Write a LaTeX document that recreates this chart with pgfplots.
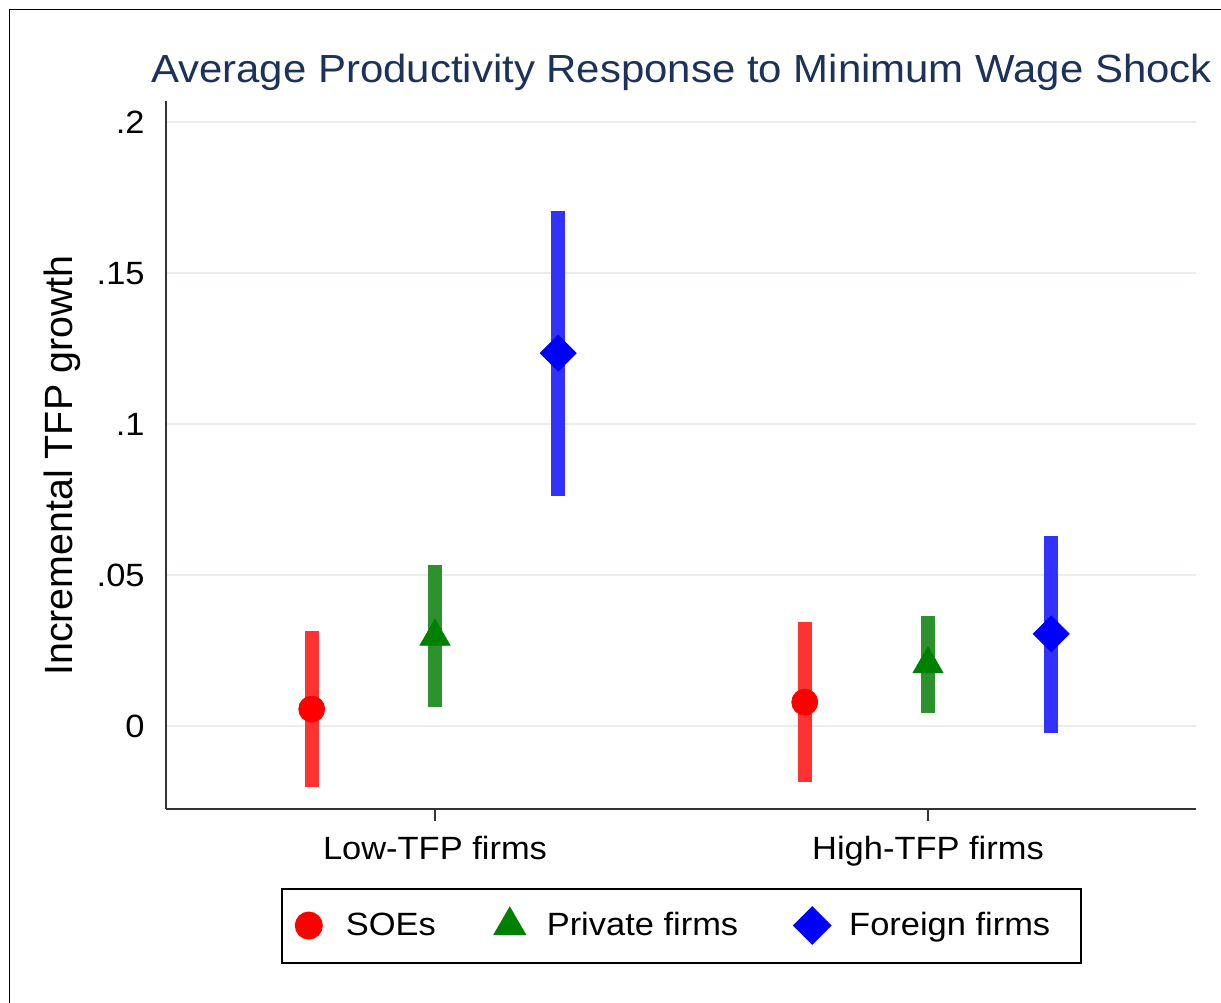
\documentclass[border=0pt]{standalone}
\usepackage{fontspec}
\setmainfont[FakeStretch=1.07]{Liberation Sans}
\newfontfamily\ylfont{Liberation Sans}
\usepackage{pgfplots}
\pgfplotsset{compat=1.18}
\definecolor{titlenavy}{RGB}{28,50,90}
\definecolor{barred}{RGB}{255,50,50}
\definecolor{bargreen}{RGB}{45,145,45}
\definecolor{barblue}{RGB}{50,50,255}
\definecolor{mred}{RGB}{255,0,0}
\definecolor{mgreen}{RGB}{0,128,0}
\definecolor{mblue}{RGB}{0,0,255}
\definecolor{gridc}{RGB}{232,238,240}
\newcommand\fs{\fontsize{16.1}{19}\selectfont}
\pgfplotsset{mylegimg/.style={legend image code/.code={\path[draw=none,fill=none] (-9.5pt,-9pt) rectangle (9.5pt,9pt); \draw[##1] plot coordinates {(0pt,0pt)};}}}
\begin{document}
\begin{tikzpicture}
\useasboundingbox (0,0) rectangle (610.5pt,-501pt);
\draw[line width=0.6pt] (4.75pt,-520pt) -- (4.75pt,-4.75pt) -- (620pt,-4.75pt);
\begin{axis}[
 at={(83pt,-404.5pt)}, anchor=south west,
 scale only axis, width=515pt, height=354pt,
 xmin=0.4544, xmax=2.5436, ymin=-0.0275, ymax=0.207,
 axis x line*=bottom, axis y line*=left,
 axis line style={line width=1pt, color=black!80, -},
 xtick={1,2}, xticklabels={Low-TFP firms, High-TFP firms},
 ytick={0,0.05,0.1,0.15,0.2}, yticklabels={0,.05,.1,.15,.2},
 tick label style={font=\fs},
 xtick style={line width=1pt, color=black!80},
 ytick style={draw=none},
 tick align=outside, major tick length=6pt,
 xticklabel style={anchor=north, inner sep=0pt, yshift=-7.5pt},
 yticklabel style={anchor=east, inner sep=0pt, xshift=-4.5pt},
 ymajorgrids, grid style={line width=1pt, color=gridc},
 ylabel={Incremental TFP growth},
 ylabel style={at={(axis description cs:-0.101,0.485)}, anchor=center, font=\ylfont\fontsize{19.7}{23}\selectfont},
 title={Average Productivity Response to Minimum Wage Shock},
 title style={at={(axis description cs:0.5005,1.0085)}, anchor=base, font=\fontsize{19.6}{23}\selectfont, color=titlenavy},
 legend columns=3,
 legend style={at={(axis description cs:0.5005,-0.1646)}, anchor=center, font=\fs, draw=black, line width=1pt, inner xsep=4pt, inner ysep=9.5pt, nodes={inner sep=0pt}, /tikz/every odd column/.append style={column sep=9pt}, /tikz/every even column/.append style={column sep=27.5pt}},
]
\addplot[forget plot, barred, line width=7pt] coordinates {(0.75,-0.0202) (0.75,0.0315)};
\addplot[forget plot, barred, line width=7pt] coordinates {(1.75,-0.0185) (1.75,0.0344)};
\addplot[forget plot, bargreen, line width=7pt] coordinates {(1,0.0063) (1,0.0533)};
\addplot[forget plot, bargreen, line width=7pt] coordinates {(2,0.0043) (2,0.0364)};
\addplot[forget plot, barblue, line width=7pt] coordinates {(1.25,0.0762) (1.25,0.1705)};
\addplot[forget plot, barblue, line width=7pt] coordinates {(2.25,-0.0023) (2.25,0.0629)};
\addplot[only marks, mark=*, mark size=6.5pt, color=mred, mylegimg] coordinates {(0.75,0.0056) (1.75,0.0079)};
\addlegendentry{SOEs}
\addplot[only marks, mark=triangle*, mark size=8.66pt, color=mgreen, mylegimg] coordinates {(1,0.0296) (2,0.0205)};
\addlegendentry{Private firms}
\addplot[only marks, mark=square*, mark size=6.36pt, mark options={rotate=45}, color=mblue, mylegimg] coordinates {(1.25,0.1235) (2.25,0.0305)};
\addlegendentry{Foreign firms\hspace*{11.5pt}}
\end{axis}
\end{tikzpicture}
\end{document}
